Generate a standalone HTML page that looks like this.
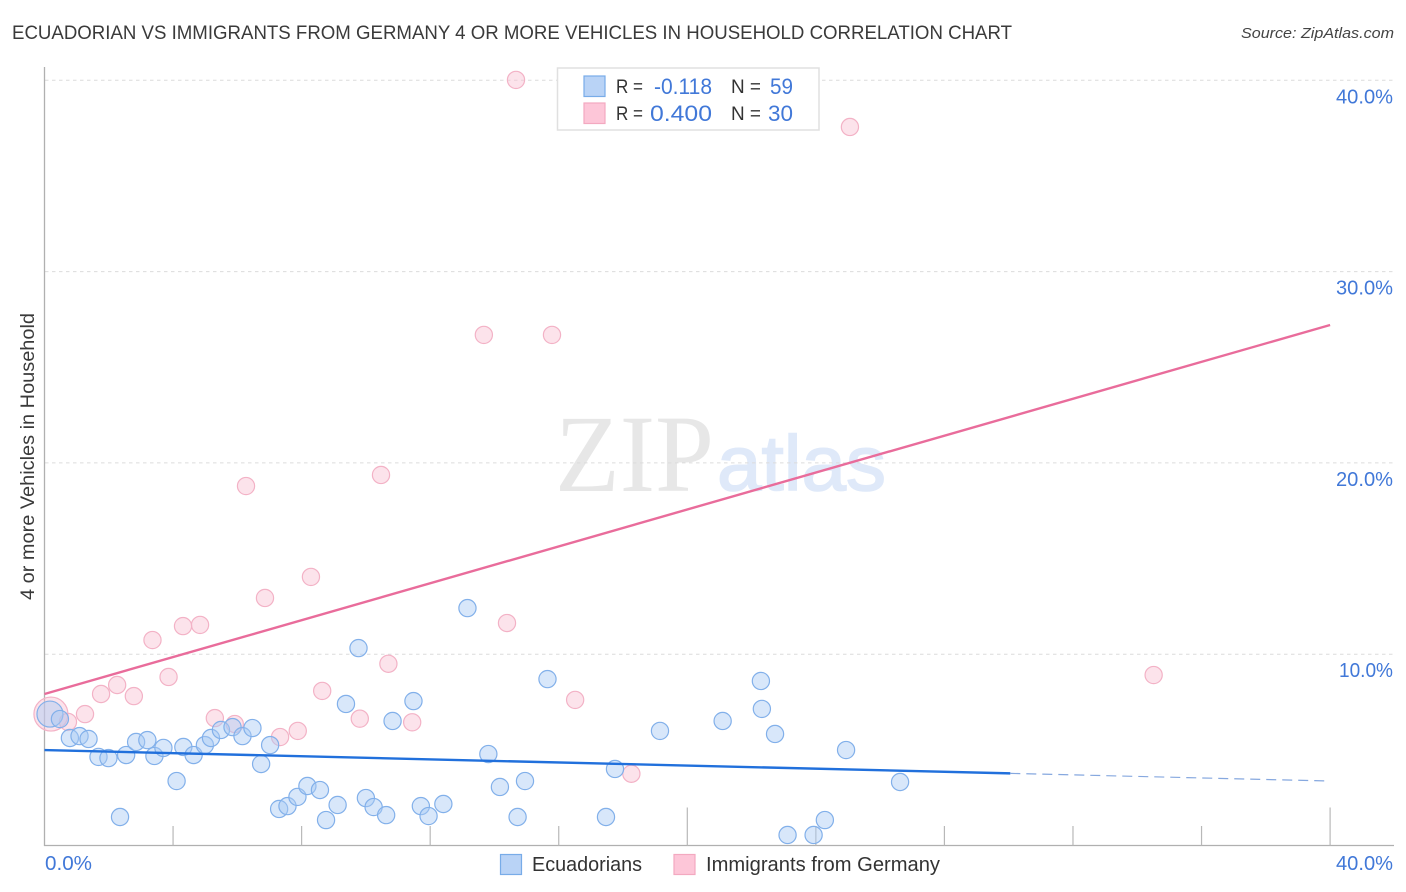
<!DOCTYPE html>
<html>
<head>
<meta charset="utf-8">
<title>Ecuadorian vs Immigrants from Germany correlation chart</title>
<style>
html,body{margin:0;padding:0;background:#fff;width:1406px;height:892px;overflow:hidden}
svg{display:block;font-family:"Liberation Sans",sans-serif}
</style>
</head>
<body>
<svg id="chart" width="1406" height="892" viewBox="0 0 1406 892" xmlns="http://www.w3.org/2000/svg">
  <rect width="1406" height="892" fill="#fff"/>
  <text x="12" y="39" font-size="19" fill="#3a3a3a" textLength="1000" lengthAdjust="spacingAndGlyphs">ECUADORIAN VS IMMIGRANTS FROM GERMANY 4 OR MORE VEHICLES IN HOUSEHOLD CORRELATION CHART</text>
  <text x="1241" y="38" font-size="15" font-style="italic" fill="#444" textLength="153" lengthAdjust="spacingAndGlyphs">Source: ZipAtlas.com</text>
  <g>
    <text x="555" y="491" font-family="'Liberation Serif',serif" font-size="110" fill="#e7e7e7" textLength="159" lengthAdjust="spacingAndGlyphs">ZIP</text>
    <text x="717" y="490" font-size="78" fill="#dfe9f9" stroke="#dfe9f9" stroke-width="1.6" textLength="169" lengthAdjust="spacingAndGlyphs">atlas</text>
  </g>
  <g id="grid"></g>
  <g id="axes"></g>
  <g id="pink-points"></g>
  <g id="blue-points"></g>
  <g id="lines"></g>
  <text transform="translate(34,600) rotate(-90)" font-size="19" fill="#3a3a3a" textLength="287" lengthAdjust="spacingAndGlyphs">4 or more Vehicles in Household</text>

  <g>
    <rect x="557.5" y="68" width="261.5" height="62" fill="#fff" stroke="#e0e0e0" stroke-width="1.5"/>
    <rect x="584" y="76" width="21" height="20.5" fill="#b9d3f6" stroke="#78ace8" stroke-width="1.2"/>
    <rect x="584" y="103" width="21" height="20.5" fill="#fdc6d8" stroke="#f3a9c0" stroke-width="1.2"/>
    <text x="616" y="93" font-size="19" fill="#333" textLength="27" lengthAdjust="spacingAndGlyphs">R =</text>
    <text x="654" y="94" font-size="22" fill="#4178d8" textLength="58" lengthAdjust="spacingAndGlyphs">-0.118</text>
    <text x="731" y="93" font-size="19" fill="#333" textLength="30" lengthAdjust="spacingAndGlyphs">N =</text>
    <text x="770" y="94" font-size="22" fill="#4178d8" textLength="23" lengthAdjust="spacingAndGlyphs">59</text>
    <text x="616" y="120" font-size="19" fill="#333" textLength="27" lengthAdjust="spacingAndGlyphs">R =</text>
    <text x="650" y="121" font-size="22" fill="#4178d8" textLength="62" lengthAdjust="spacingAndGlyphs">0.400</text>
    <text x="731" y="120" font-size="19" fill="#333" textLength="30" lengthAdjust="spacingAndGlyphs">N =</text>
    <text x="768" y="121" font-size="22" fill="#4178d8" textLength="25" lengthAdjust="spacingAndGlyphs">30</text>
  </g>

  <g>
    <rect x="500.5" y="854.5" width="21" height="20" fill="#b9d3f6" stroke="#78ace8" stroke-width="1.2"/>
    <text x="532" y="871" font-size="20" fill="#333" textLength="110" lengthAdjust="spacingAndGlyphs">Ecuadorians</text>
    <rect x="674" y="854.5" width="21" height="20" fill="#fdc6d8" stroke="#f3a9c0" stroke-width="1.2"/>
    <text x="706" y="871" font-size="20" fill="#333" textLength="234" lengthAdjust="spacingAndGlyphs">Immigrants from Germany</text>
  </g>
</svg>
<script>
var blueX = [0.17,0.48,0.79,1.09,1.37,1.68,1.99,2.54,2.85,3.20,3.42,3.70,4.11,2.35,4.32,4.64,4.99,5.18,5.49,5.85,6.16,6.47,7.02,6.74,7.30,7.56,7.87,8.18,8.57,9.12,8.76,10.00,10.24,10.63,11.71,11.95,12.41,9.38,9.77,10.83,11.48,13.16,15.65,22.29,22.32,21.10,22.73,19.15,13.81,14.17,14.95,14.72,17.47,17.75,24.94,26.62,23.12,23.93,24.28];
var blueY = [6.87,6.61,5.62,5.72,5.57,4.63,4.57,4.73,5.41,5.51,4.68,5.10,3.37,1.49,5.15,4.73,5.25,5.62,6.04,6.19,5.72,6.14,5.25,4.26,1.91,2.06,2.54,3.11,2.90,2.12,1.33,2.48,2.01,1.59,2.06,1.54,2.17,7.40,10.32,6.51,7.55,12.41,8.70,8.60,7.14,6.51,5.83,5.99,4.78,3.06,3.37,1.49,1.49,4.00,4.99,3.32,0.55,0.55,1.33];
var pinkX = [0.20,0.73,1.26,1.76,2.26,2.78,3.86,3.36,5.30,5.92,7.33,7.88,8.64,9.81,10.70,11.44,16.51,18.26,34.51,14.67,25.06,13.67,15.79,10.47,6.27,8.29,6.86,4.31,4.84,14.39];
var pinkY = [6.87,6.46,6.87,7.92,8.39,7.81,8.81,10.74,6.66,6.35,5.67,5.99,8.08,6.63,9.50,6.44,7.61,3.75,8.91,40.02,37.56,26.69,26.69,19.37,18.79,14.04,12.94,11.47,11.53,11.63];
var blueTrendX = [0,30.05];
var blueTrendY = [4.99,3.77];
var blueDashX = [30.05,40];
var blueDashY = [3.77,3.37];
var pinkTrendX = [0,40];
var pinkTrendY = [7.92,27.21];
var yTicks = [10,20,30,40];
var yTickLabels = ["10.0%","20.0%","30.0%","40.0%"];
var xTicks = [4,8,12,16,20,24,28,32,36,40];
var xMajorTicks = [20,40];
var xEndTicks = [0,40];
var xEndLabels = ["0.0%","40.0%"];
var blueBigIndex = 0;
var pinkBigIndex = 0;

var NS = "http://www.w3.org/2000/svg";
function sx(v){ return 44.5 + v * 32.14; }
function sy(v){ return 845.5 - v * 19.13; }
function make(tag, attrs, parent){
  var el = document.createElementNS(NS, tag);
  for (var k in attrs) el.setAttribute(k, attrs[k]);
  parent.appendChild(el);
  return el;
}
var grid = document.getElementById("grid");
var axes = document.getElementById("axes");
var linesG = document.getElementById("lines");
var pinkG = document.getElementById("pink-points");
var blueG = document.getElementById("blue-points");

yTicks.forEach(function(t, i){
  var g = make("line", {x1:45, x2:1394, y1:sy(t), y2:sy(t), stroke:"#dcdcdc", "stroke-width":1, "stroke-dasharray":"3.5 3.5"}, grid);
  
  
  var lab = make("text", {x:1393, y:sy(t)+23, "text-anchor":"end", "font-size":20, fill:"#4178d8", textLength:i===0?54:57, lengthAdjust:"spacingAndGlyphs"}, axes);
  lab.textContent = yTickLabels[i];
  
  
});

var yAxis = make("line", {x1:44.5, x2:44.5, y1:67, y2:846, stroke:"#b0b0b0", "stroke-width":1.3}, axes);


var xAxis = make("line", {x1:44, x2:1394, y1:845.5, y2:845.5, stroke:"#b0b0b0", "stroke-width":1.3}, axes);



xTicks.forEach(function(t){
  var top = xMajorTicks.indexOf(t) >= 0 ? 807.5 : 826;
  var tk = make("line", {x1:sx(t), x2:sx(t), y1:top, y2:845.5, stroke:"#b8b8b8", "stroke-width":1.2}, axes);
  
  
});

xEndTicks.forEach(function(t, i){
  var lab = make("text", {y:870, "font-size":20, fill:"#4178d8", lengthAdjust:"spacingAndGlyphs"}, axes);
  if (i === 0) { lab.setAttribute("x", sx(t)+0.5); lab.setAttribute("textLength", 47); }
  else { lab.setAttribute("x", 1336); lab.setAttribute("textLength", 57); }
  lab.textContent = xEndLabels[i];
  
  
});

pinkX.forEach(function(v, i){
  var big = i === pinkBigIndex;
  var c = make("circle", {cx:sx(v), cy:sy(pinkY[i]), r:big?17:8.6, fill:"#f9c0d2", "fill-opacity":0.45, stroke:"#f3b2c6", "stroke-width":1.2}, pinkG);
  
  
});
blueX.forEach(function(v, i){
  var big = i === blueBigIndex;
  var c = make("circle", {cx:sx(v), cy:sy(blueY[i]), r:big?13:8.6, fill:"#a9c9f3", "fill-opacity":0.45, stroke:"#82b0ea", "stroke-width":1.2}, blueG);
  
  
});

var pt = make("line", {x1:sx(pinkTrendX[0]), y1:sy(pinkTrendY[0]), x2:sx(pinkTrendX[1]), y2:sy(pinkTrendY[1]), stroke:"#e96c9b", "stroke-width":2.4, "stroke-linecap":"butt"}, linesG);


var bt = make("line", {x1:sx(blueTrendX[0]), y1:sy(blueTrendY[0]), x2:sx(blueTrendX[1]), y2:sy(blueTrendY[1]), stroke:"#2170dc", "stroke-width":2.4, "stroke-linecap":"butt"}, linesG);


var bd = make("line", {x1:sx(blueDashX[0]), y1:sy(blueDashY[0]), x2:sx(blueDashX[1]), y2:sy(blueDashY[1]), stroke:"#86a8df", "stroke-width":1.2, "stroke-dasharray":"10 6"}, linesG);


</script>
</body>
</html>
